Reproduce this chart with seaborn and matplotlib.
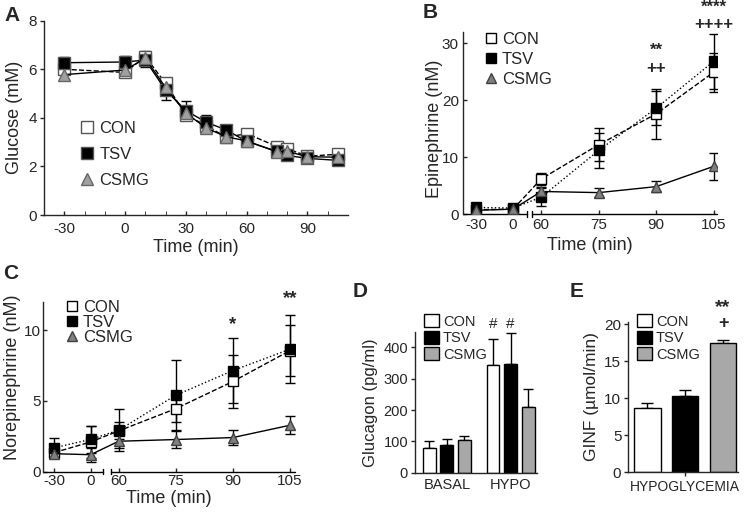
import numpy as np
import pandas as pd
import matplotlib
matplotlib.use("Agg")
import matplotlib.pyplot as plt
from matplotlib.lines import Line2D
from matplotlib.patches import Patch
import seaborn as sns

sns.set_style("ticks")
plt.rcParams['font.family'] = ['Liberation Sans', 'DejaVu Sans']
plt.rcParams['axes.unicode_minus'] = False

groups = ['CON', 'TSV', 'CSMG']

# A: glucose
time_a = [-30, 0, 10, 20, 30, 40, 50, 60, 75, 80, 90, 105]
glu_con = [6.0, 5.87, 6.52, 5.42, 4.12, 3.68, 3.2, 3.35, 2.82, 2.73, 2.42, 2.5]
glu_tsv = [6.27, 6.3, 6.38, 5.14, 4.3, 3.82, 3.5, 3.03, 2.62, 2.45, 2.33, 2.25]
glu_csmg = [5.78, 5.97, 6.45, 5.25, 4.2, 3.58, 3.22, 3.05, 2.6, 2.62, 2.4, 2.38]
glu_con_err = [0.15, 0.15, 0.25, 0.2, 0.2, 0.15, 0.15, 0.15, 0.15, 0.15, 0.1, 0.1]
glu_tsv_err = [0.25, 0.25, 0.3, 0.4, 0.4, 0.3, 0.2, 0.15, 0.15, 0.15, 0.1, 0.1]
glu_csmg_err = [0.2, 0.15, 0.2, 0.2, 0.2, 0.15, 0.15, 0.15, 0.1, 0.1, 0.1, 0.1]

# B: epinephrine
time_bc = [-30, 0, 60, 75, 90, 105]
epi_con = [0.8, 0.9, 6.2, 12.2, 17.6, 24.9]
epi_tsv = [1.2, 1.1, 3.0, 11.2, 18.6, 26.8]
epi_csmg = [0.7, 0.9, 4.0, 3.8, 4.85, 8.4]
epi_con_err = [0.3, 0.3, 1.1, 2.9, 4.4, 3.4]
epi_tsv_err = [0.3, 0.4, 1.6, 3.0, 3.0, 4.8]
epi_csmg_err = [0.2, 0.2, 0.7, 0.8, 0.9, 2.4]

# C: norepinephrine
ne_con = [1.35, 2.1, 2.88, 4.45, 6.37, 8.55]
ne_tsv = [1.69, 2.28, 2.93, 5.4, 7.14, 8.65]
ne_csmg = [1.27, 1.2, 2.15, 2.27, 2.41, 3.28]
ne_con_err = [0.2, 1.1, 0.6, 0.95, 1.85, 1.8]
ne_tsv_err = [0.7, 0.95, 1.5, 2.45, 2.3, 2.4]
ne_csmg_err = [0.15, 0.5, 0.5, 0.6, 0.55, 0.65]

# D: glucagon
phases = ['BASAL', 'HYPO']
gcg_con = [80, 343]
gcg_tsv = [88, 348]
gcg_csmg = [103, 210]
gcg_con_err = [20, 85]
gcg_tsv_err = [19, 97]
gcg_csmg_err = [15, 57]

# E: glucose infusion
ginf = [8.7, 10.3, 17.4]
ginf_err = [0.65, 0.85, 0.4]

bar_colors = {'CON': 'white', 'TSV': 'black', 'CSMG': '#a8a8a8'}


def fwd(x):
    x = np.asarray(x, dtype=float)
    return np.where(x <= 0, 1.22 * x, np.where(x < 60, 0.47 * x, 28.2 + 3.83 * (x - 60)))


def inv(u):
    u = np.asarray(u, dtype=float)
    return np.where(u <= 0, u / 1.22, np.where(u < 28.2, u / 0.47, 60 + (u - 28.2) / 3.83))


def line_panel(ax, times, series, errs, styles, ms=7.5):
    for g, vals, err in zip(groups, series, errs):
        st = styles[g]
        ax.errorbar(times, vals, yerr=err, fmt='none', ecolor='black', elinewidth=1,
                    capsize=3.5, capthick=1, zorder=2)
        df = pd.DataFrame({'time': times, 'value': vals})
        sns.lineplot(data=df, x='time', y='value', ax=ax, color='black', lw=1,
                     linestyle=st['ls'], marker=st['marker'], markersize=ms,
                     markerfacecolor=st['fc'], markeredgecolor=st['ec'],
                     markeredgewidth=1, errorbar=None, zorder=3)
    handles = [Line2D([], [], ls='none', marker=styles[g]['marker'], markersize=ms,
                      markerfacecolor=styles[g]['fc'], markeredgecolor=styles[g]['ec'],
                      markeredgewidth=1) for g in groups]
    return handles


def broken_axis(ax, lo, hi):
    x0, x1 = ax.get_xlim()
    ax.spines['bottom'].set_visible(False)
    tr = ax.get_xaxis_transform()
    for a, b in [(x0, lo), (hi, x1)]:
        ax.plot([a, b], [0, 0], color='black', lw=1, transform=tr, clip_on=False)
    for v in (lo, hi):
        ax.plot([v, v], [-0.016, 0.016], color='black', lw=1, transform=tr, clip_on=False)
    ax.set_xlim(x0, x1)


fig = plt.figure(figsize=(7.44, 5.17), dpi=100)
W, H = 744, 517


def axes_px(l, r, t, b):
    return fig.add_axes([l / W, 1 - b / H, (r - l) / W, (b - t) / H])


def style_axis(ax, fs=10, direction='out', pad=2):
    sns.despine(ax=ax)
    for s in ('left', 'bottom'):
        ax.spines[s].set_linewidth(1)
    ax.tick_params(labelsize=fs, width=1, length=3, direction=direction, pad=pad)


# ---- A ----
axA = axes_px(44, 348, 20.7, 215)
styA = {'CON': dict(ls='--', marker='s', fc='white', ec='#555555'),
        'TSV': dict(ls='-', marker='s', fc='black', ec='#555555'),
        'CSMG': dict(ls='-', marker='^', fc='#a0a0a0', ec='#666666')}
hA = line_panel(axA, time_a, [glu_con, glu_tsv, glu_csmg],
                [glu_con_err, glu_tsv_err, glu_csmg_err], styA, ms=8)
axA.set_xlim(-40, 110)
axA.set_ylim(0, 8)
axA.set_xticks([-30, 0, 30, 60, 90])
axA.set_xticklabels(['-30', '0', '30', '60', '90'])
axA.set_xticks(np.arange(-30, 101, 10), minor=True)
axA.set_yticks([0, 2, 4, 6, 8])
style_axis(axA, 11)
axA.tick_params(axis='x', which='both', direction='in', length=3, pad=5)
axA.set_xlabel('Time (min)', fontsize=13, labelpad=2)
axA.set_ylabel('Glucose (mM)', fontsize=13, labelpad=4)
axA.legend(hA, groups, loc='upper left', bbox_to_anchor=(80 / W, 1 - 121 / H),
           bbox_transform=fig.transFigure, frameon=False, fontsize=12,
           handlelength=0.8, handletextpad=0.35, labelspacing=0.66, borderpad=0,
           borderaxespad=0)

# ---- B ----
axB = axes_px(463, 716.7, 31.7, 214.3)
axB.set_xscale('function', functions=(fwd, inv))
styBC = {'CON': dict(ls='--', marker='s', fc='white', ec='black'),
         'TSV': dict(ls=':', marker='s', fc='black', ec='black'),
         'CSMG': dict(ls='-', marker='^', fc='#808080', ec='#404040')}
hB = line_panel(axB, time_bc, [epi_con, epi_tsv, epi_csmg],
                [epi_con_err, epi_tsv_err, epi_csmg_err], styBC, ms=7.5)
axB.set_xlim(-41, 105.8)
axB.set_ylim(0, 32)
axB.set_xticks(time_bc)
axB.set_xticklabels(['-30', '0', '60', '75', '90', '105'])
axB.set_xticks([], minor=True)
axB.set_yticks([0, 10, 20, 30])
style_axis(axB, 11, direction='in', pad=3)
broken_axis(axB, 30, 41)
axB.set_xlabel('Time (min)', fontsize=13, labelpad=3)
axB.set_ylabel('Epinephrine (nM)', fontsize=13)
axB.yaxis.set_label_coords(-0.078, 0.467)
axB.legend(hB, groups, loc='upper left', bbox_to_anchor=(485 / W, 1 - 32 / H),
           bbox_transform=fig.transFigure, frameon=False, fontsize=12,
           handlelength=0.7, handletextpad=0.3, labelspacing=0.31, borderpad=0,
           borderaxespad=0)
for x, y, s in [(90, 28.7, '**'), (90, 25.6, '++'), (105, 36.3, '****'), (105, 33.2, '++++')]:
    axB.text(x, y, s, ha='center', va='center', fontsize=12, fontweight='bold', clip_on=False)

# ---- C ----
axC = axes_px(43.3, 295, 301.7, 471.7)
axC.set_xscale('function', functions=(fwd, inv))
hC = line_panel(axC, time_bc, [ne_con, ne_tsv, ne_csmg],
                [ne_con_err, ne_tsv_err, ne_csmg_err], styBC, ms=7.5)
axC.set_xlim(-39, 106.3)
axC.set_ylim(0, 12)
axC.set_xticks(time_bc)
axC.set_xticklabels(['-30', '0', '60', '75', '90', '105'])
axC.set_xticks([], minor=True)
axC.set_yticks([0, 5, 10])
style_axis(axC, 11, direction='in', pad=2)
broken_axis(axC, 27, 43)
axC.set_xlabel('Time (min)', fontsize=13, labelpad=1)
axC.set_ylabel('Norepinephrine (nM)', fontsize=13)
axC.yaxis.set_label_coords(-0.089, 0.553)
axC.legend(hC, groups, loc='upper left', bbox_to_anchor=(66 / W, 1 - 300 / H),
           bbox_transform=fig.transFigure, frameon=False, fontsize=12,
           handlelength=0.7, handletextpad=0.3, labelspacing=0.0, borderpad=0,
           borderaxespad=0)
for x, y, s in [(90, 10.4, '*'), (105, 12.2, '**')]:
    axC.text(x, y, s, ha='center', va='center', fontsize=13.5, fontweight='bold', clip_on=False)

# ---- D ----
axD = axes_px(415, 536.7, 331.7, 472.7)
dfD = pd.DataFrame({'phase': phases * 3,
                    'group': [g for g in groups for _ in phases],
                    'value': gcg_con + gcg_tsv + gcg_csmg,
                    'err': gcg_con_err + gcg_tsv_err + gcg_csmg_err})
sns.barplot(data=dfD, x='phase', y='value', hue='group', hue_order=groups,
            palette=bar_colors, edgecolor='black', linewidth=1, width=0.83, gap=0.27,
            errorbar=None, legend=False, ax=axD)
order = dfD.sort_values(['phase', 'group'], key=lambda c: c.map(
    {**{p: i for i, p in enumerate(phases)}, **{g: i for i, g in enumerate(groups)}}))
bars = sorted(axD.patches, key=lambda p: p.get_x())
xs = [b.get_x() + b.get_width() / 2 for b in bars]
axD.errorbar(xs, order['value'], yerr=[np.zeros(len(xs)), order['err']], fmt='none',
             ecolor='black', elinewidth=1, capsize=3.5, capthick=1, zorder=0)
axD.set_xlim(-0.5, 1.41)
axD.set_ylim(0, 450)
axD.set_yticks([0, 100, 200, 300, 400])
style_axis(axD, 10.5)
axD.tick_params(axis='x', length=0, pad=4)
axD.set_xlabel('')
axD.set_ylabel('Glucagon (pg/ml)', fontsize=12, labelpad=4)
hD = [Patch(facecolor=bar_colors[g], edgecolor='black', linewidth=1) for g in groups]
axD.legend(hD, groups, loc='upper left', bbox_to_anchor=(424 / W, 1 - 314 / H),
           bbox_transform=fig.transFigure, frameon=False, fontsize=10.5,
           handlelength=1.0, handleheight=1.0, handletextpad=0.3, labelspacing=0.15,
           borderpad=0, borderaxespad=0)
for i in (3, 4):
    axD.text(xs[i], 476, '#', ha='center', va='center', fontsize=11, clip_on=False)

# ---- E ----
axE = axes_px(628.3, 738, 322, 472)
dfE = pd.DataFrame({'phase': ['HYPOGLYCEMIA'] * 3, 'group': groups, 'value': ginf, 'err': ginf_err})
sns.barplot(data=dfE, x='phase', y='value', hue='group', hue_order=groups,
            palette=bar_colors, edgecolor='black', linewidth=1, width=0.8, gap=0.31,
            errorbar=None, legend=False, ax=axE)
barsE = sorted(axE.patches, key=lambda p: p.get_x())
xsE = [b.get_x() + b.get_width() / 2 for b in barsE]
axE.errorbar(xsE, ginf, yerr=[np.zeros(3), ginf_err], fmt='none', ecolor='black',
             elinewidth=1, capsize=4, capthick=1, zorder=0)
axE.set_xlim(-0.402, 0.372)
axE.set_ylim(0, 20.3)
axE.set_yticks([0, 5, 10, 15, 20])
style_axis(axE, 11)
axE.tick_params(axis='x', labelsize=10, pad=3)
axE.set_xlabel('')
axE.set_ylabel('GINF (\u00b5mol/min)', fontsize=12.5, labelpad=4)
axE.legend(hD, groups, loc='upper left', bbox_to_anchor=(637 / W, 1 - 314 / H),
           bbox_transform=fig.transFigure, frameon=False, fontsize=10.5,
           handlelength=1.0, handleheight=1.0, handletextpad=0.3, labelspacing=0.15,
           borderpad=0, borderaxespad=0)
axE.text(xsE[2], 22.2, '**', ha='center', va='center', fontsize=14, fontweight='bold', clip_on=False)
axE.text(xsE[2], 20.1, '+', ha='center', va='center', fontsize=13, fontweight='bold', clip_on=False)

# panel letters
for x, y, s in [(4, 6, 'A'), (423, 3, 'B'), (3, 264, 'C'), (353, 282, 'D'), (570, 282, 'E')]:
    fig.text(x / W, 1 - y / H, s, ha='left', va='top', fontsize=15, fontweight='bold')

fig.savefig('out.png', dpi=100)
